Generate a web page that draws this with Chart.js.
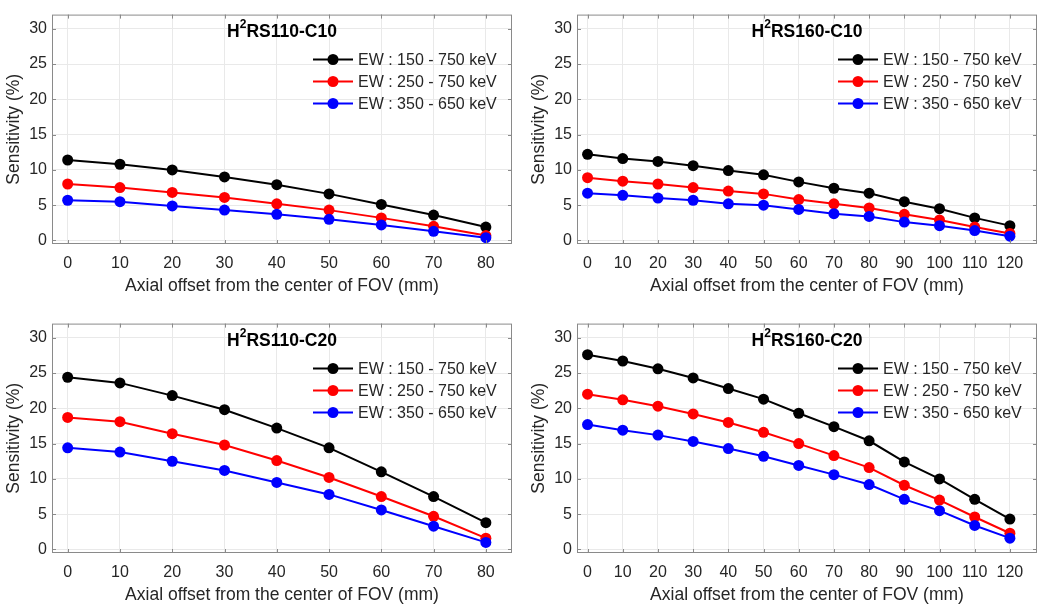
<!DOCTYPE html>
<html>
<head>
<meta charset="utf-8">
<script src="https://cdn.jsdelivr.net/npm/chart.js@4.4.1/dist/chart.umd.min.js"></script>
<style>
  body { margin: 0; background: #fff; overflow: hidden; }
  .panel { position: absolute; width: 525px; height: 300px; }
</style>
</head>
<body>
<div class="panel" style="left:0;top:0"><canvas id="c1" width="525" height="300"></canvas></div>
<div class="panel" style="left:525px;top:0"><canvas id="c2" width="525" height="300"></canvas></div>
<div class="panel" style="left:0;top:309px"><canvas id="c3" width="525" height="300"></canvas></div>
<div class="panel" style="left:525px;top:309px"><canvas id="c4" width="525" height="300"></canvas></div>
<script>
// offsets (mm)
const xShort = [0, 10, 20, 30, 40, 50, 60, 70, 80];
const xLong = [0, 10, 20, 30, 40, 50, 60, 70, 80, 90, 100, 110, 120];
const yTicks = [0, 5, 10, 15, 20, 25, 30];

const seriesLabels = ["EW : 150 - 750 keV", "EW : 250 - 750 keV", "EW : 350 - 650 keV"];
const seriesColors = ["#000000", "#ff0000", "#0000ff"];

// sensitivity (%)
const rs110c10_150 = [11.4, 10.8, 10.0, 9.0, 7.9, 6.6, 5.1, 3.6, 1.9];
const rs110c10_250 = [8.0, 7.5, 6.8, 6.1, 5.2, 4.3, 3.2, 2.0, 0.7];
const rs110c10_350 = [5.7, 5.5, 4.9, 4.3, 3.7, 3.0, 2.2, 1.3, 0.4];

const rs160c10_150 = [12.2, 11.6, 11.2, 10.6, 9.9, 9.3, 8.3, 7.4, 6.7, 5.5, 4.5, 3.2, 2.1];
const rs160c10_250 = [8.9, 8.4, 8.0, 7.5, 7.0, 6.6, 5.8, 5.2, 4.6, 3.7, 2.9, 1.9, 1.0];
const rs160c10_350 = [6.7, 6.4, 6.0, 5.7, 5.2, 5.0, 4.4, 3.8, 3.4, 2.6, 2.1, 1.4, 0.6];

const rs110c20_150 = [24.4, 23.6, 21.8, 19.8, 17.2, 14.4, 11.0, 7.5, 3.8];
const rs110c20_250 = [18.7, 18.1, 16.4, 14.8, 12.6, 10.2, 7.5, 4.7, 1.6];
const rs110c20_350 = [14.4, 13.8, 12.5, 11.2, 9.5, 7.8, 5.6, 3.3, 1.0];

const rs160c20_150 = [27.6, 26.7, 25.6, 24.3, 22.8, 21.3, 19.3, 17.4, 15.4, 12.4, 10.0, 7.1, 4.3];
const rs160c20_250 = [22.0, 21.2, 20.3, 19.2, 18.0, 16.6, 15.0, 13.3, 11.6, 9.1, 7.0, 4.6, 2.3];
const rs160c20_350 = [17.7, 16.9, 16.2, 15.3, 14.3, 13.2, 11.9, 10.6, 9.2, 7.1, 5.5, 3.4, 1.6];

Chart.defaults.font.family = "'Liberation Sans', Arial, sans-serif";
Chart.defaults.font.size = 16;
Chart.defaults.color = "#262626";

const TEXT = "#262626";
const BOX = "#8a8a8a";
const GRID = "#e9e9e9";

// box, inward ticks, in-axes title and legend (MATLAB look)
const framePlugin = {
  id: "frame",
  afterDatasetsDraw(chart) {
    const { ctx, chartArea: a } = chart;
    const xs = chart.scales.x, ys = chart.scales.y;
    ctx.save();
    ctx.strokeStyle = BOX;
    ctx.lineWidth = 1;
    ctx.beginPath();
    xs.ticks.forEach(t => {
      const px = Math.round(xs.getPixelForValue(t.value)) + 0.5;
      ctx.moveTo(px, a.bottom); ctx.lineTo(px, a.bottom - 4);
      ctx.moveTo(px, a.top); ctx.lineTo(px, a.top + 4);
    });
    ys.ticks.forEach(t => {
      const py = Math.round(ys.getPixelForValue(t.value)) + 0.5;
      ctx.moveTo(a.left, py); ctx.lineTo(a.left + 4, py);
      ctx.moveTo(a.right, py); ctx.lineTo(a.right - 4, py);
    });
    ctx.stroke();
    ctx.strokeRect(a.left + 0.5, a.top + 0.5, a.right - a.left - 1, a.bottom - a.top - 1);
    ctx.restore();
  },
  afterDraw(chart, args, opts) {
    const { ctx, chartArea: a } = chart;
    ctx.save();
    // title with superscript
    const big = "bold 17.5px 'Liberation Sans', Arial, sans-serif";
    const small = "bold 12px 'Liberation Sans', Arial, sans-serif";
    ctx.font = big;
    const w1 = ctx.measureText(opts.base).width;
    const w3 = ctx.measureText(opts.rest).width;
    ctx.font = small;
    const w2 = ctx.measureText(opts.sup).width;
    let x = (a.left + a.right) / 2 - (w1 + w2 + w3) / 2;
    const base = 36.5;
    ctx.fillStyle = "#000";
    ctx.textBaseline = "alphabetic";
    ctx.textAlign = "left";
    ctx.font = big;
    ctx.fillText(opts.base, x, base);
    x += w1;
    ctx.font = small;
    ctx.fillText(opts.sup, x, base - 9);
    x += w2;
    ctx.font = big;
    ctx.fillText(opts.rest, x, base);

    // legend
    chart.data.datasets.forEach((ds, i) => {
      const y = 59.5 + i * 22;
      ctx.strokeStyle = ds.borderColor;
      ctx.lineWidth = 2;
      ctx.beginPath();
      ctx.moveTo(313, y); ctx.lineTo(353, y);
      ctx.stroke();
      ctx.fillStyle = ds.backgroundColor;
      ctx.beginPath();
      ctx.arc(333, y, 5.5, 0, Math.PI * 2);
      ctx.fill();
      ctx.fillStyle = TEXT;
      ctx.font = "16px 'Liberation Sans', Arial, sans-serif";
      ctx.textBaseline = "middle";
      ctx.fillText(ds.label, 358, y + 1);
    });
    ctx.restore();
  }
};

function makePanel(id, title, xs, xMax, series) {
  const datasets = series.map((vals, i) => ({
    label: seriesLabels[i],
    data: xs.map((x, j) => ({ x: x, y: vals[j] })),
    borderColor: seriesColors[i],
    backgroundColor: seriesColors[i],
    borderWidth: 2,
    pointRadius: 5.5,
    pointBorderWidth: 0,
    pointHoverRadius: 5.5,
    order: 2 - i,
    clip: false,
  }));

  new Chart(document.getElementById(id), {
    type: "line",
    data: { datasets },
    options: {
      responsive: false,
      animation: false,
      devicePixelRatio: 1,
      layout: { padding: { top: 10, right: 13, left: 0, bottom: 0 } },
      plugins: {
        legend: { display: false },
        tooltip: { enabled: false },
        frame: title,
      },
      scales: {
        x: {
          type: "linear",
          min: -3,
          max: xMax,
          afterBuildTicks: s => { s.ticks = xs.map(v => ({ value: v })); },
          afterFit: s => { s.height = 56; },
          grid: { color: GRID, drawTicks: false },
          border: { display: false },
          ticks: { padding: 10, color: TEXT, font: { size: 16 } },
          title: {
            display: true,
            text: "Axial offset from the center of FOV (mm)",
            color: TEXT,
            font: { size: 17.5 },
            padding: { top: 0, bottom: 3.5 },
          },
        },
        y: {
          min: -0.5,
          max: 32,
          afterBuildTicks: s => { s.ticks = yTicks.map(v => ({ value: v })); },
          afterFit: s => { s.width = 52; },
          grid: { color: GRID, drawTicks: false },
          border: { display: false },
          ticks: { padding: 5, color: TEXT, font: { size: 16 } },
          title: {
            display: true,
            text: "Sensitivity (%)",
            color: TEXT,
            font: { size: 17.5 },
            padding: { top: 4, bottom: 0 },
          },
        },
      },
    },
    plugins: [framePlugin],
  });
}

makePanel("c1", { base: "H", sup: "2", rest: "RS110-C10" }, xShort, 85,
  [rs110c10_150, rs110c10_250, rs110c10_350]);
makePanel("c2", { base: "H", sup: "2", rest: "RS160-C10" }, xLong, 127.7,
  [rs160c10_150, rs160c10_250, rs160c10_350]);
makePanel("c3", { base: "H", sup: "2", rest: "RS110-C20" }, xShort, 85,
  [rs110c20_150, rs110c20_250, rs110c20_350]);
makePanel("c4", { base: "H", sup: "2", rest: "RS160-C20" }, xLong, 127.7,
  [rs160c20_150, rs160c20_250, rs160c20_350]);
</script>
</body>
</html>
